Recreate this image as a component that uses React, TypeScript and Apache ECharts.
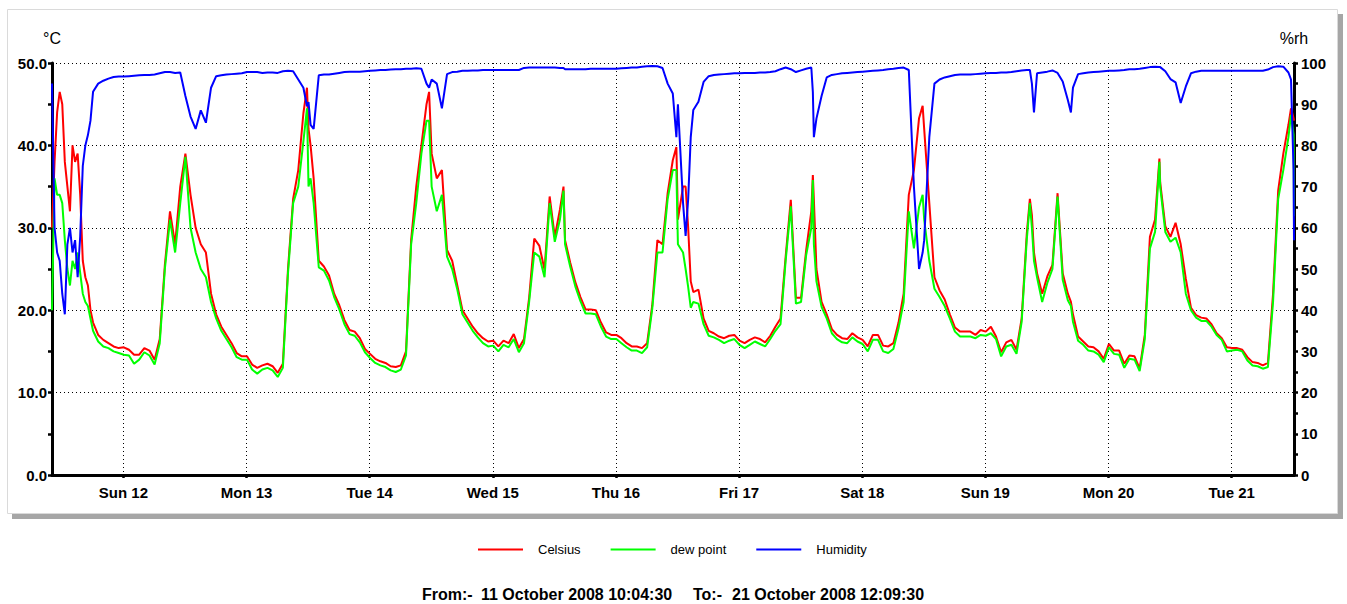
import { useEffect, useRef } from 'react';
import * as echarts from 'echarts';

// Logger readings: offset in hours from the first sample, temperature (°C),
// dew point (°C) and relative humidity (%rh).
const START = Date.UTC(2008, 9, 11, 10, 4, 30);
const END = Date.UTC(2008, 9, 21, 12, 9, 30);
const HOUR_MS = 3600 * 1000;

const readingHours = [
  0, 0.5, 1, 1.5, 2, 2.5, 3, 3.5, 4, 4.5,
  5, 5.5, 6, 6.5, 7, 7.5, 8, 9, 10, 11,
  12, 13, 14, 15, 16, 17, 18, 19, 20, 21,
  22, 23, 24, 25, 26, 27, 28, 29, 30, 31,
  32, 33, 34, 35, 36, 37, 38, 39, 40, 41,
  42, 43, 44, 45, 46, 47, 48, 49, 49.7, 50,
  50.4, 51, 52, 53, 54, 55, 56, 57, 58, 59,
  60, 61, 62, 63, 64, 65, 66, 67, 68, 69,
  70, 71, 72, 73, 73.5, 74, 75, 76, 77, 78,
  79, 80, 81, 82, 83, 84, 85, 86, 87, 88,
  89, 90, 91, 92, 93, 94, 95, 96, 97, 98,
  99, 99.7, 100, 101, 102, 103, 104, 105, 106, 107,
  108, 109, 110, 111, 112, 113, 114, 115, 116, 117,
  118, 119, 120, 121, 121.7, 122, 123, 123.5, 124, 124.5,
  125, 126, 127, 128, 129, 130, 131, 132, 133, 134,
  135, 136, 137, 138, 139, 140, 141, 142, 143, 144,
  145, 146, 147, 148, 148.3, 148.5, 149, 150, 151, 152,
  153, 154, 155, 156, 157, 158, 159, 160, 161, 162,
  163, 164, 165, 166, 167, 168, 169, 169.7, 170, 171,
  172, 173, 174, 175, 176, 177, 178, 179, 180, 181,
  182, 183, 184, 185, 186, 187, 188, 189, 190, 190.6,
  191, 191.4, 192, 193, 194, 195, 196, 197, 198, 198.6,
  199, 200, 201, 202, 203, 204, 205, 206, 207, 208,
  209, 210, 211, 212, 213, 214, 215, 215.85, 216, 217,
  218, 219, 220, 221, 222, 223, 224, 225, 226, 227,
  228, 229, 230, 231, 232, 233, 234, 235, 236, 237,
  238, 239, 240, 241, 241.5, 242, 242.083,
];

const celsius = [
  30, 38, 44, 46.5, 45, 38, 35, 32, 40, 38,
  39, 34, 26, 24, 23, 20, 18.5, 17, 16.4, 16,
  15.6, 15.4, 15.5, 15.2, 14.6, 14.6, 15.4, 15.1, 14, 16.5,
  25.5, 32, 28, 35, 39, 34, 30, 28, 27, 22,
  19.5, 18, 17, 16, 14.8, 14.4, 14.4, 13.4, 13, 13.3,
  13.5, 13.2, 12.4, 13.5, 25, 33.5, 37, 43.9, 47, 42,
  40, 36, 26, 25.3, 24.2, 22, 20.6, 18.8, 17.6, 17.4,
  16.6, 15.3, 14.7, 14.1, 13.8, 13.6, 13.2, 13.1, 13.3, 15,
  28.5, 35, 40, 45, 46.5, 39, 36, 37, 27.3, 26,
  23, 20, 19, 18, 17.2, 16.6, 16.2, 16.3, 15.6, 16.3,
  16, 17.1, 15.4, 16.5, 21.5, 28.7, 27.8, 24.9, 33.8, 28.9,
  32.2, 35, 28.5, 25.8, 23.4, 21.6, 20.1, 20.1, 20, 18.5,
  17.3, 17, 17, 16.6, 16, 15.6, 15.6, 15.4, 16, 20.6,
  28.5, 28, 34.2, 38.2, 39.8, 31, 35, 35, 30, 23.5,
  22.2, 22.5, 19, 17.5, 17.2, 16.8, 16.6, 16.9, 17, 16.3,
  16, 16.4, 16.7, 16.5, 16.1, 16.9, 18, 19, 26.5, 33.4,
  21.5, 21.5, 27.3, 32, 36.4, 33.4, 25, 21, 19.5, 17.7,
  17, 16.6, 16.5, 17.2, 16.7, 16.4, 15.6, 17, 17, 15.7,
  15.6, 16, 18.5, 22, 34, 37, 43.3, 44.8, 42, 33,
  24, 22.4, 21.3, 19.5, 17.9, 17.4, 17.4, 17.4, 17, 17.6,
  17.4, 18, 16.8, 14.9, 16.1, 16.4, 15.2, 19, 29.3, 33.5,
  31.5, 27, 24.5, 22, 24.1, 25.5, 34.2, 24.5, 22, 21,
  19.5, 16.8, 16.2, 15.6, 15.5, 15, 14.1, 15.9, 15.1, 15.1,
  13.5, 14.5, 14.4, 12.9, 17, 28.9, 31, 38.4, 35.5, 30.2,
  28.9, 30.6, 28, 23.8, 20.3, 19.4, 19.1, 19, 18.3, 17.2,
  16.6, 15.5, 15.4, 15.4, 15.2, 14.3, 13.7, 13.6, 13.3, 13.6,
  22, 34.5, 39, 42.5, 44.5, 43.3, 43,
];

const dewPoint = [
  20, 36, 34, 34, 33, 28.5, 25, 23, 26, 25,
  27, 24.5, 22, 21, 20.5, 19, 17.5, 16.2, 15.6, 15.4,
  15, 14.8, 14.6, 14.5, 13.5, 14, 14.9, 14.5, 13.4, 16,
  25, 31, 27, 33, 38.6, 30, 27, 25, 24, 21,
  19, 17.5, 16.5, 15.5, 14.3, 14, 14, 12.8, 12.3, 12.8,
  13, 12.7, 11.9, 13, 24.5, 33, 35, 40.5, 44.5, 35,
  36, 33, 25.2, 24.8, 23.6, 21.6, 20.1, 18.3, 17.1, 16.9,
  16.1, 14.9, 14.2, 13.6, 13.3, 13.1, 12.7, 12.5, 12.8, 14.5,
  28, 33, 39, 43, 43, 35, 32, 34, 26.5, 25,
  22.5, 19.5, 18.5, 17.5, 16.7, 16, 15.6, 15.7, 15, 15.8,
  15.5, 16.5, 14.9, 16, 21, 27, 26.5, 24, 33, 28.3,
  31, 34.5, 28, 25.3, 22.9, 21.1, 19.6, 19.6, 19.5, 18,
  16.8, 16.5, 16.5, 16, 15.5, 15.1, 15.1, 14.8, 15.5, 20.2,
  27, 27, 33.5, 37, 37, 28, 27, 25, 22.8, 20.3,
  21, 20.8, 18.3, 16.9, 16.7, 16.4, 16, 16.3, 16.5, 15.8,
  15.4, 15.8, 16.2, 15.9, 15.6, 16.5, 17.5, 18.3, 26, 32.6,
  20.8, 21, 26.7, 30, 35.8, 28, 23.5, 20.4, 19, 17.2,
  16.5, 16.1, 16, 16.7, 16.2, 15.9, 15, 16.4, 16.4, 15,
  14.8, 15.3, 17.8, 21, 32, 27.5, 32.5, 34, 31, 26,
  22.6, 21.6, 20.5, 19, 17.4, 16.8, 16.8, 16.8, 16.6, 17,
  16.9, 17.2, 16.5, 14.4, 15.6, 15.8, 14.7, 18.6, 28.6, 33,
  30, 26, 24, 21, 23.3, 25, 33.8, 23.7, 21.2, 20.5,
  18.6, 16.3, 15.8, 15.1, 15, 14.6, 13.7, 15.5, 14.7, 14.6,
  13, 14.1, 14, 12.6, 16.5, 27.5, 29.5, 38, 35, 29.5,
  28.3, 28.8, 27, 22, 20, 19.1, 18.7, 18.7, 18, 17,
  16.4, 15, 15.1, 15.2, 15, 13.9, 13.3, 13.2, 12.9, 13.1,
  21, 33.5, 37, 41, 43.7, 41.3, 31.4,
];

const humidity = [
  95, 60, 54, 52, 44, 39, 56, 60, 54, 57,
  48, 58, 75, 80, 82.5, 86, 93, 95, 95.7, 96.2,
  96.6, 96.7, 96.7, 96.8, 96.9, 97, 97.1, 97.1, 97.2, 97.5,
  97.8, 97.8, 97.6, 97.7, 92, 87, 84, 88.5, 85.5, 94,
  96.8, 97, 97.2, 97.3, 97.4, 97.5, 97.8, 97.8, 97.8, 97.6,
  97.7, 97.7, 97.6, 98, 98.1, 98, 96, 94, 89.5, 90.5,
  85, 84, 97, 97.2, 97.2, 97.4, 97.6, 97.8, 97.9, 97.9,
  97.9, 98, 98.1, 98.2, 98.3, 98.3, 98.4, 98.5, 98.5, 98.6,
  98.6, 98.7, 98.6, 95, 94, 96, 95, 89, 97.3, 97.8,
  97.9, 98.1, 98.1, 98.2, 98.2, 98.3, 98.3, 98.3, 98.3, 98.3,
  98.3, 98.3, 98.3, 98.8, 98.9, 98.9, 98.9, 98.9, 98.9, 98.9,
  98.8, 98.8, 98.5, 98.5, 98.5, 98.5, 98.5, 98.6, 98.6, 98.6,
  98.6, 98.6, 98.6, 98.7, 98.8, 98.9, 98.9, 99.1, 99.2, 99.3,
  99.2, 98.8, 95, 92.6, 82, 90, 66, 58, 67, 82,
  88.6, 90.6, 95.4, 96.8, 97.1, 97.2, 97.3, 97.4, 97.5, 97.5,
  97.6, 97.6, 97.6, 97.7, 97.7, 97.8, 98, 98.5, 98.9, 98.5,
  97.8, 98.2, 98.6, 98.9, 93, 82, 86.5, 92, 96.5, 97.1,
  97.3, 97.5, 97.6, 97.7, 97.8, 97.9, 98, 98.1, 98.2, 98.3,
  98.5, 98.6, 98.8, 98.9, 98.3, 70, 50, 54, 57, 82,
  95, 96, 96.5, 96.8, 97.1, 97.2, 97.2, 97.2, 97.3, 97.4,
  97.5, 97.6, 97.6, 97.7, 97.7, 97.8, 98, 98.2, 98.3, 98.3,
  95, 88, 97.5, 97.7, 97.9, 98.2, 97.6, 95.5, 91, 88,
  94, 97.3, 97.5, 97.7, 97.8, 97.9, 98, 98.1, 98.1, 98.2,
  98.3, 98.5, 98.5, 98.6, 98.8, 99, 99.1, 99, 99, 98,
  96.1, 95.3, 90.3, 94.3, 97.5, 97.9, 98.1, 98.1, 98.1, 98.1,
  98.1, 98.1, 98.1, 98.1, 98.1, 98.1, 98.1, 98.1, 98.1, 98.4,
  99, 99.2, 99.1, 97.7, 96, 74, 57,
];

// Midnights labelled along the time axis (October 2008).
const dayDates = [12, 13, 14, 15, 16, 17, 18, 19, 20, 21];
const dayNames = ['Sun', 'Mon', 'Tue', 'Wed', 'Thu', 'Fri', 'Sat'];

const seriesNames = ['Celsius', 'dew point', 'Humidity'];
const seriesColors = ['#ff0000', '#00ff00', '#0000ff'];

const FONT = "'Liberation Sans', Arial, Helvetica, sans-serif";

export default function App() {
  const ref = useRef<HTMLDivElement>(null);

  useEffect(() => {
    if (!ref.current) return;
    const chart = echarts.init(ref.current, null, { renderer: 'svg' });

    const toPoints = (vals: number[]) =>
      readingHours.map((h, i) => [START + h * HOUR_MS, vals[i]]);
    const dayTicks = dayDates.map((d) => Date.UTC(2008, 9, d));

    const dotted = { color: '#000', width: 1, type: [1, 3] as number[] };
    const axisText = { color: '#000', fontSize: 15, fontWeight: 'bold' as const, fontFamily: FONT };
    const tickStyle = { color: '#000', width: 2.5 };

    const footer = [
      { x: 422, text: 'From:-' },
      { x: 481, text: '11 October 2008 10:04:30' },
      { x: 693, text: 'To:-' },
      { x: 732, text: '21 October 2008 12:09:30' },
    ];

    chart.setOption({
      animation: false,
      useUTC: true,
      backgroundColor: '#ffffff',
      color: seriesColors,
      textStyle: { fontFamily: FONT },
      grid: { left: 52, right: 53, top: 63, bottom: 129 },
      graphic: [
        {
          type: 'rect',
          z: -20,
          silent: true,
          shape: { x: 12, y: 14, width: 1331, height: 505 },
          style: { fill: '#a6a6a6' },
        },
        {
          type: 'rect',
          z: -19,
          silent: true,
          shape: { x: 7.5, y: 9.5, width: 1330, height: 504 },
          style: { fill: '#ffffff', stroke: '#dadada', lineWidth: 1 },
        },
        ...footer.map((f) => ({
          type: 'text',
          x: f.x,
          y: 594,
          silent: true,
          style: {
            text: f.text,
            fill: '#000',
            font: `bold 16px ${FONT}`,
            verticalAlign: 'middle',
          },
        })),
      ],
      legend: {
        left: 478,
        top: 543,
        padding: 0,
        icon: 'rect',
        itemWidth: 45,
        itemHeight: 2,
        itemGap: 30,
        selectedMode: false,
        textStyle: { color: '#000', fontSize: 13, fontFamily: FONT, padding: [0, 0, 0, 10] },
        data: seriesNames,
      },
      xAxis: {
        type: 'value',
        min: START,
        max: END,
        axisLine: { onZero: false, lineStyle: { color: '#000', width: 3 } },
        axisTick: { customValues: dayTicks, length: 3, lineStyle: tickStyle },
        axisLabel: {
          ...axisText,
          customValues: dayTicks,
          margin: 10,
          formatter: (v: number) => {
            const d = new Date(v);
            return `${dayNames[d.getUTCDay()]} ${d.getUTCDate()}`;
          },
        },
        splitLine: { show: true, lineStyle: dotted },
      },
      yAxis: [
        {
          type: 'value',
          min: 0,
          max: 50,
          interval: 10,
          position: 'left',
          name: '°C',
          nameLocation: 'end',
          nameGap: 17,
          nameTextStyle: { color: '#000', fontSize: 16, fontFamily: FONT, align: 'center' },
          axisLine: { show: true, lineStyle: { color: '#000', width: 3 } },
          axisTick: { show: true, length: 4, lineStyle: tickStyle },
          minorTick: { show: true, splitNumber: 2, length: 4, lineStyle: tickStyle },
          axisLabel: { ...axisText, margin: 5, formatter: (v: number) => v.toFixed(1) },
          splitLine: { show: true, lineStyle: dotted },
        },
        {
          type: 'value',
          min: 0,
          max: 100,
          interval: 10,
          position: 'right',
          name: '%rh',
          nameLocation: 'end',
          nameGap: 17,
          nameTextStyle: { color: '#000', fontSize: 16, fontFamily: FONT, align: 'center' },
          axisLine: { show: true, lineStyle: { color: '#000', width: 3 } },
          axisTick: { show: true, length: 4, lineStyle: tickStyle },
          minorTick: { show: true, splitNumber: 2, length: 4, lineStyle: tickStyle },
          axisLabel: { ...axisText, margin: 7 },
          splitLine: { show: false },
        },
      ],
      series: [
        {
          name: seriesNames[0],
          type: 'line',
          yAxisIndex: 0,
          data: toPoints(celsius),
          symbol: 'none',
          lineStyle: { width: 2, color: seriesColors[0] },
          itemStyle: { color: seriesColors[0] },
        },
        {
          name: seriesNames[1],
          type: 'line',
          yAxisIndex: 0,
          data: toPoints(dewPoint),
          symbol: 'none',
          lineStyle: { width: 2, color: seriesColors[1] },
          itemStyle: { color: seriesColors[1] },
        },
        {
          name: seriesNames[2],
          type: 'line',
          yAxisIndex: 1,
          data: toPoints(humidity),
          symbol: 'none',
          lineStyle: { width: 2, color: seriesColors[2] },
          itemStyle: { color: seriesColors[2] },
        },
      ],
    });

    return () => chart.dispose();
  }, []);

  return (
    <div
      ref={ref}
      style={{ position: 'absolute', left: 0, top: 0, width: 1347, height: 604 }}
    />
  );
}
